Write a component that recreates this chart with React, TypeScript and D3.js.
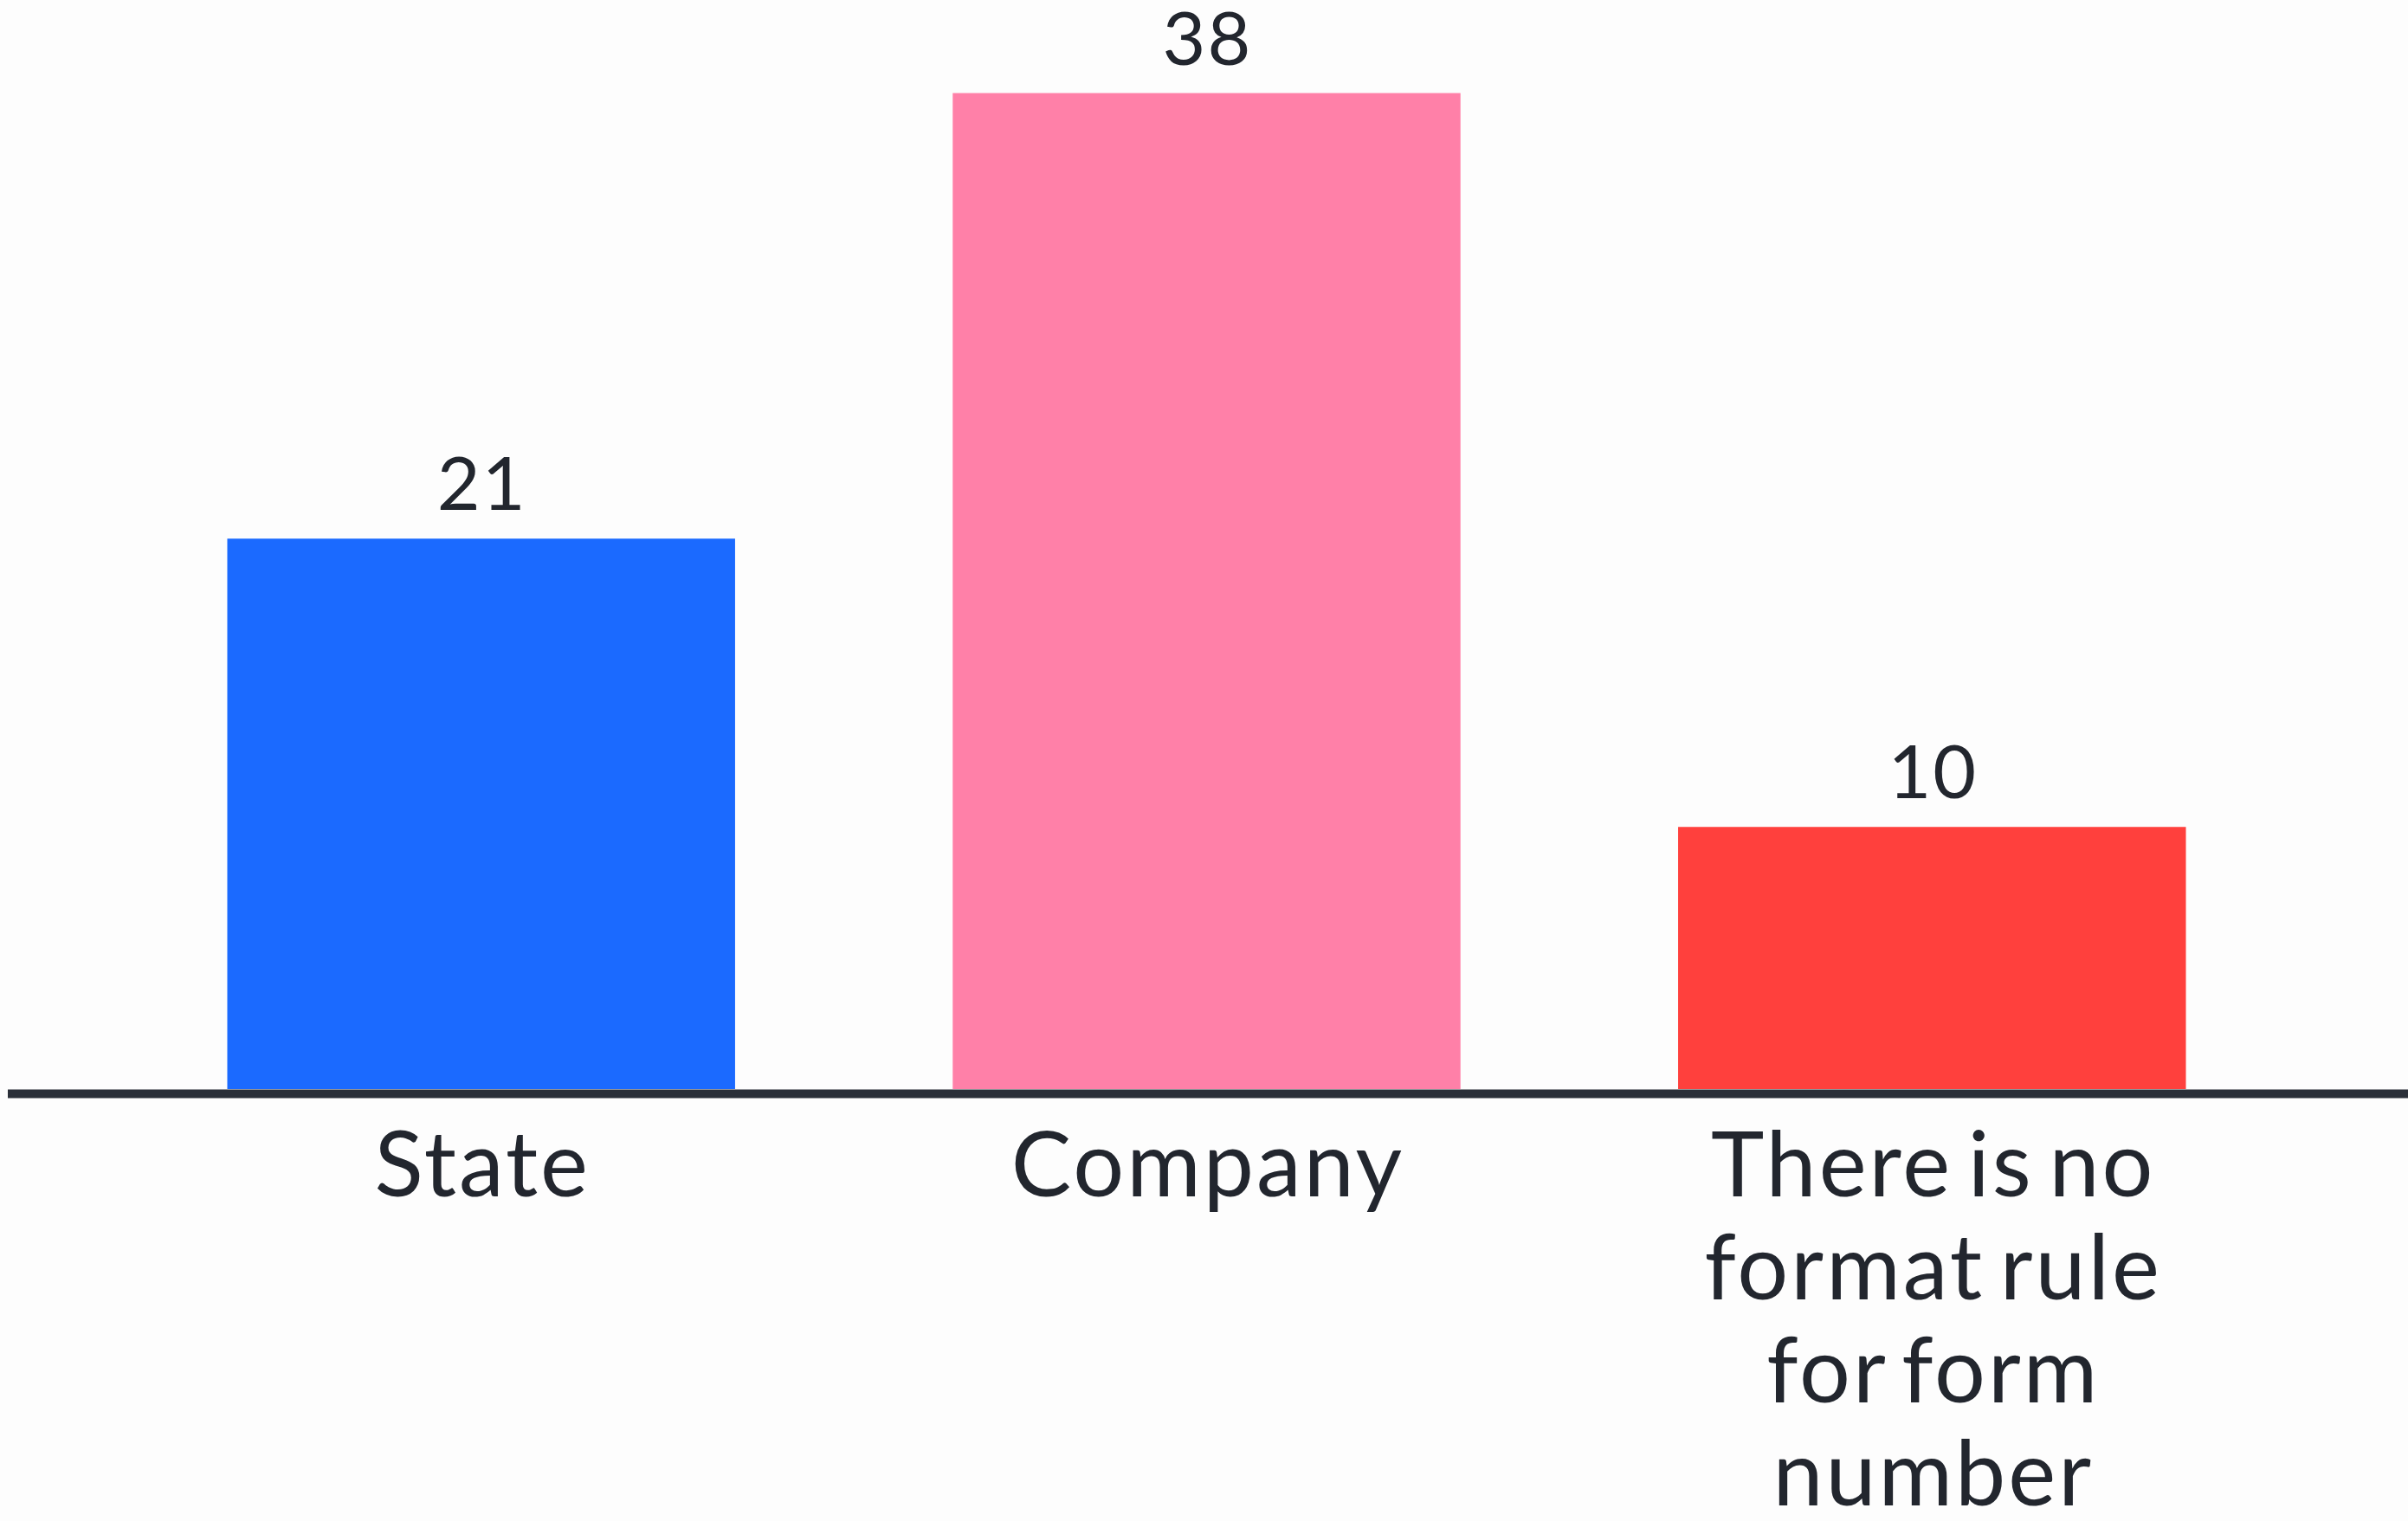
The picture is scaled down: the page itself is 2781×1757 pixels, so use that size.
import React from "react";
import * as d3 from "d3";

const categories = ["State", "Company", "There is no format rule for form number"];
const categoryLines = [["State"], ["Company"], ["There is no", "format rule", "for form", "number"]];
const values = [21, 38, 10];
const colors = ["#1B6AFF", "#FF80A8", "#FF403D"];

const W = 2781;
const H = 1757;
const baseY = 1258;

export default function App() {
  const x = d3.scaleBand<string>().domain(categories).range([262.5, 2524.5]).paddingInner(0.3).paddingOuter(0);
  const y = d3.scaleLinear().domain([0, 38]).range([baseY, 107.5]);
  const font = "Lato, 'Noto Sans', sans-serif";
  const textColor = "#22262E";
  return (
    <svg width={W} height={H} style={{ position: "absolute", left: 0, top: 0, background: "#FDFDFD" }}>
      <rect x={0} y={0} width={W} height={H} fill="#FDFDFD" />
      {categories.map((c, i) => (
        <g key={c}>
          <rect x={x(c)} y={y(values[i])} width={x.bandwidth()} height={baseY - y(values[i])} fill={colors[i]} />
          <text
            x={(x(c) as number) + x.bandwidth() / 2 + 1}
            y={y(values[i]) - 33}
            textAnchor="middle"
            fontFamily={font}
            fontSize={86}
            letterSpacing={2}
            fill={textColor}
          >
            {values[i]}
          </text>
          {categoryLines[i].map((ln, j) => (
            <text
              key={j}
              x={(x(c) as number) + x.bandwidth() / 2 + 1.5}
              y={1382 + j * 119}
              textAnchor="middle"
              fontFamily={font}
              fontSize={104}
              letterSpacing={3}
              wordSpacing={-12}
              fill={textColor}
            >
              {ln}
            </text>
          ))}
        </g>
      ))}
      <line x1={9} x2={W} y1={1263.5} y2={1263.5} stroke="#2A2F38" strokeWidth={10} />
    </svg>
  );
}
